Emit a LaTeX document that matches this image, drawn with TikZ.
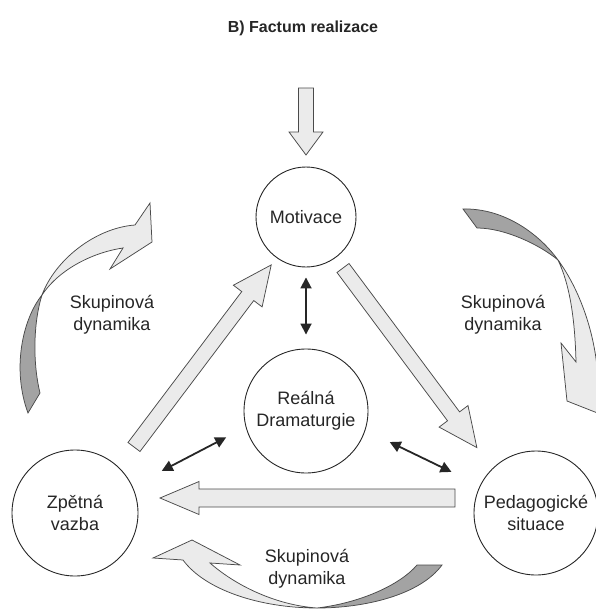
\documentclass[tikz,border=0pt]{standalone}
\usepackage{fontspec}
\setmainfont{Liberation Sans}
\usetikzlibrary{arrows.meta,calc}
\definecolor{fillL}{HTML}{EBEBEB}
\definecolor{fillD}{HTML}{A3A3A3}
\definecolor{edgec}{HTML}{4A4A4A}
\definecolor{ink}{HTML}{262626}
\begin{document}
\begin{tikzpicture}[x=1pt,y=-1pt,
  circ/.style={circle, draw=ink, line width=0.9pt, fill=white, inner sep=0pt,
    minimum size=#1, align=center, font=\fontsize{18}{22}\selectfont, text=ink},
  lbl/.style={align=center, font=\fontsize{18}{22}\selectfont, text=ink},
  fatline/.style={draw=edgec, fill=fillL, line width=0.75pt, line join=miter},
  darkpart/.style={draw=edgec, fill=fillD, line width=0.75pt},
  dbl/.style={{Triangle[length=11pt,width=11pt]}-{Triangle[length=11pt,width=11pt]},
    line width=1.8pt, draw=ink},
  pics/fatarrow/.style n args={4}{code={
    \draw[fatline] (0,-#1) -- ({#3-#4},-#1) -- ({#3-#4},-#2) -- (#3,0)
      -- ({#3-#4},#2) -- ({#3-#4},#1) -- (0,#1) -- cycle;
  }}
]
\useasboundingbox (0,0) rectangle (596,610);

% title
\node[font=\bfseries\fontsize{16}{19}\selectfont, text=ink] (title) at (303,28) {B) Factum realizace};

% circles
\node[circ=100pt] (mot) at (306,217) {Motivace};
\node[circ=124pt] (real) at (306,411) {Reálná\\Dramaturgie};
\node[circ=126pt] (zpet) at (75,513) {Zpětná\\vazba};
\node[circ=124pt] (ped) at (536,513) {Pedagogické\\situace};

% block arrows
\pic[rotate=-90] at (306,88) {fatarrow={7.5}{17}{67}{23}};
\pic[rotate=53] at (134,447) {fatarrow={7.5}{18}{228}{39}};
\pic[rotate=-53.3] at (343,268) {fatarrow={7.5}{18}{224}{39}};
\pic[rotate=180] at (455,498) {fatarrow={9}{16.5}{295}{39}};

% double arrows
\draw[dbl, shorten <=10pt, shorten >=14pt] (mot.south) -- (real.north);
\draw[dbl, shorten <=22pt, shorten >=33pt] (real.195) -- (zpet.25);
\draw[dbl, shorten <=27pt, shorten >=31.5pt] (real.342) -- (ped.154);

% left curved arrow
\draw[fatline] (42,295) .. controls (55,260) and (95,228) .. (135,225) -- (150,203)
  -- (152,242) -- (110,269) -- (123,248) .. controls (95,252) and (60,268) .. (42,295) -- cycle;
\draw[darkpart] (42,295) .. controls (22,320) and (12,370) .. (28,413) -- (40,393)
  .. controls (32,360) and (34,320) .. (42,295) -- cycle;

% right curved arrow
\draw[fatline] (558,260) .. controls (580,290) and (596,335) .. (598,380) -- (600,414)
  -- (567,401) -- (561,343) -- (576,362) .. controls (575,320) and (570,285) .. (558,260) -- cycle;
\draw[darkpart] (558,260) .. controls (540,235) and (505,208) .. (463,209) -- (477,228)
  .. controls (505,228) and (540,245) .. (558,260) -- cycle;

% bottom curved arrow
\draw[fatline] (317,608) .. controls (260,608) and (205,590) .. (183,560) -- (153,558)
  -- (192,540) -- (240,565) -- (210,563) .. controls (235,585) and (275,605) .. (317,608) -- cycle;
\draw[darkpart] (317,608) .. controls (365,608) and (420,595) .. (442,565) -- (417,565)
  .. controls (400,585) and (360,603) .. (317,608) -- cycle;

% labels
\node[lbl] (sd1) at (112,315) {Skupinová\\dynamika};
\node[lbl] (sd2) at (503,315) {Skupinová\\dynamika};
\node[lbl] (sd3) at (307,569) {Skupinová\\dynamika};
\end{tikzpicture}
\end{document}
